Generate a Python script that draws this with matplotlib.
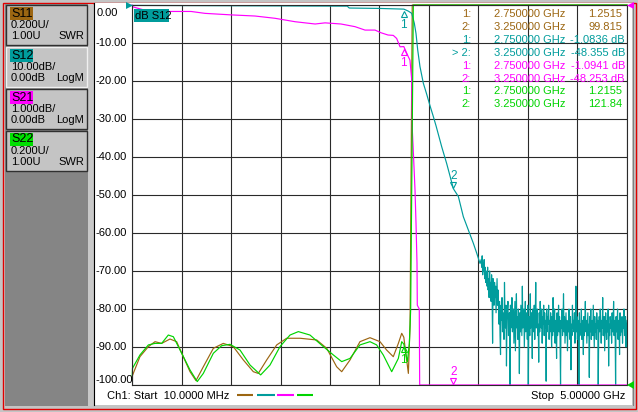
import numpy as np
import matplotlib
matplotlib.use('Agg')
import matplotlib.pyplot as plt
from matplotlib.patches import Rectangle, Polygon
from matplotlib.transforms import blended_transform_factory, offset_copy

plt.rcParams['font.family'] = ['Liberation Sans', 'DejaVu Sans']
plt.rcParams['font.size'] = 8

# sweep: 10 MHz .. 5 GHz, frequencies in GHz
f_start, f_stop = 0.01, 5.0

# S11 (SWR)
s11_f = [0.01, 0.09, 0.175, 0.242, 0.309, 0.393, 0.46, 0.527, 0.595, 0.655, 0.729, 0.83,
         0.93, 1.031, 1.132, 1.233, 1.283, 1.368, 1.469, 1.569, 1.704, 1.872, 1.973, 2.073,
         2.124, 2.208, 2.308, 2.409, 2.51, 2.577, 2.644, 2.695, 2.729, 2.75, 2.796, 2.813,
         2.822, 2.835, 3.25, 5.0]
s11_swr = [1.044, 1.149, 1.202, 1.228, 1.219, 1.242, 1.228, 1.149, 1.070, 1.023, 1.096, 1.193,
           1.219, 1.202, 1.132, 1.070, 1.061, 1.132, 1.211, 1.246, 1.246, 1.237, 1.193, 1.096,
           1.070, 1.132, 1.228, 1.249, 1.228, 1.184, 1.149, 1.219, 1.272, 1.2515, 1.061, 1.316,
           2.0, 3.2, 99.815, 150.0]

# S22 (SWR)
s22_f = [0.01, 0.015, 0.09, 0.175, 0.242, 0.309, 0.376, 0.427, 0.511, 0.595, 0.668, 0.729,
         0.83, 0.914, 0.998, 1.099, 1.2, 1.307, 1.401, 1.502, 1.603, 1.687, 1.804, 1.939,
         2.04, 2.124, 2.208, 2.308, 2.409, 2.476, 2.543, 2.628, 2.695, 2.729, 2.75, 2.786,
         2.806, 2.819, 2.836, 2.846, 2.9, 3.25, 5.0]
s22_swr = [1.026, 1.088, 1.158, 1.211, 1.219, 1.219, 1.263, 1.254, 1.167, 1.079, 1.018, 1.061,
           1.167, 1.207, 1.214, 1.184, 1.105, 1.053, 1.105, 1.202, 1.263, 1.281, 1.263, 1.202,
           1.158, 1.123, 1.14, 1.211, 1.228, 1.211, 1.158, 1.070, 1.14, 1.228, 1.2155, 1.123,
           1.219, 1.395, 2.395, 3.0, 12.0, 121.84, 200.0]

# S12 (dB), roll-off part then noise floor
s12_f = [0.01, 1.2, 2.18, 2.2, 2.5, 2.75, 2.795, 2.83, 2.856, 2.873, 2.89, 2.913, 2.947,
         2.981, 3.014, 3.047, 3.075, 3.132, 3.182, 3.25, 3.3, 3.35, 3.4, 3.451, 3.485, 3.518]
s12_db = [-0.1, -0.2, -0.3, -0.8, -0.9, -1.0836, -1.6, -2.2, -4.8, -7.5, -11.8, -16.2, -20.6,
          -23.5, -26.5, -29.3, -31.8, -37.3, -41.7, -48.355, -50.4, -55.7, -59.2, -62.7, -65.3, -68.0]
s12_noise_db = [
    -67, -69, -66, -71, -68, -70, -67, -72, -69, -73, -70, -71, -74, -69, -75, -72, -77, -70,
    -74, -73, -78, -71, -76, -89, -72, -75, -79, -73, -77, -74, -81, -76, -72, -79, -75,
    -80, -84, -78, -87, -92, -79, -83, -77, -86, -81, -84, -88, -73, -82, -85, -79, -95, -83,
    -80, -78, -87, -84, -81, -100, -79, -85, -83, -77, -86, -82, -80, -89, -84, -78, -91, -83,
    -76, -85, -82, -88, -80, -84, -97, -81, -86, -79, -83, -87, -74, -85, -82, -80, -90, -84,
    -78, -86, -83, -81, -88, -79, -100, -84, -82, -87, -76, -85, -81, -83, -93, -80, -86, -84,
    -79, -88, -82, -73, -85, -83, -80, -87, -84, -94, -81, -86, -78, -83, -85, -80, -89, -82,
    -84, -79, -87, -81, -85, -83, -99, -80, -86, -82,
    -84, -79, -88, -83, -86, -81, -85, -90, -82, -87, -77, -84, -86, -80, -89, -83, -85, -93,
    -81, -87, -84, -79, -86, -82, -88, -100, -83, -85, -80, -87, -84, -76, -86, -82, -89, -85,
    -81, -87, -83, -91, -84, -86, -80, -85, -88, -82, -96, -84, -87, -79, -85, -83, -86, -81,
    -89, -84, -74, -86, -82, -88, -85, -83, -100, -81, -87, -84, -86, -80, -88, -83, -85, -92,
    -82, -87, -84, -78, -86, -83, -89, -85, -81, -87, -84, -98, -82, -86, -80, -88, -85, -83,
    -87, -79, -85, -90, -82, -86, -84, -88, -81, -85, -83, -100, -87, -82, -86, -80, -84, -89,
    -83, -85, -77, -87, -84, -82, -91, -86, -81, -85, -88, -83, -86, -80, -95, -84, -87, -82,
    -85, -83, -89, -81, -86, -84, -78, -87, -83, -85, -100, -82, -86, -84, -80, -88, -83, -85,
    -92, -81, -87, -84, -86, -82, -89, -83, -85, -80, -87, -84, -82, -90, -85, -83]
s12_noise_f = np.linspace(3.53, f_stop, len(s12_noise_db))

# S21 (dB)
s21_f = [0.01, 0.02, 0.171, 0.403, 0.605, 0.746, 1.008, 1.25, 1.452, 1.654, 1.856, 1.956,
         2.117, 2.258, 2.359, 2.46, 2.52, 2.591, 2.644, 2.678, 2.712, 2.75, 2.795, 2.812,
         2.83, 2.836, 2.843, 2.863, 2.873, 2.883, 2.886, 2.906, 2.91, 3.25, 5.0]
s21_db = [0.0, -0.05, -0.16, -0.17, -0.17, -0.22, -0.26, -0.29, -0.35, -0.44, -0.5, -0.47,
          -0.5, -0.57, -0.66, -0.66, -0.73, -0.79, -0.8, -0.88, -1.1, -1.0941, -1.36, -1.45,
          -1.97, -3.3, -3.68, -4.87, -5.74, -6.79, -7.9, -8.0, -12.0, -48.253, -60.0]

# marker readout
marker_f = [2.75, 3.25]
s11_mk = [1.2515, 99.815]
s12_mk = [-1.0836, -48.355]
s21_mk = [-1.0941, -48.253]
s22_mk = [1.2155, 121.84]

c_s11, c_s12, c_s21, c_s22 = '#9c6612', '#009c9c', '#ff00ff', '#00d400'


def swr_grid(v):  # 0.200U/div, ref 1.00U at bottom line
    return -100 + (np.asarray(v, float) - 1) / 0.2 * 10


def s21_grid(v):  # 1.000 dB/div, ref 0 dB at top line
    return np.asarray(v, float) * 10


W, H = 638, 412
fig = plt.figure(figsize=(W / 100, H / 100), dpi=100, facecolor='#c4c4c4')

bg = fig.add_axes([0, 0, 1, 1])
bg.set_xlim(0, W)
bg.set_ylim(H, 0)
bg.axis('off')


def box(x0, y0, x1, y1, **kw):
    bg.add_patch(Rectangle((x0, y0), x1 - x0, y1 - y0, **kw))


box(2.5, 2.5, 635.5, 408.5, fill=False, ec='#e00000', lw=1.0)
box(5, 4, 88, 406, fc='#858585', ec='none')
box(88, 4, 93, 406, fc='#c8c8c8', ec='none')
box(94, 3, 632, 405, fc='white', ec='none')
bg.plot([93.5, 93.5], [3, 405], color='black', lw=0.8)
bg.plot([632.5, 632.5], [3, 405], color='#808080', lw=0.8)

# channel/trace boxes on the left
panels = [('S11', c_s11, '0.200U/', '1.00U', 'SWR'),
          ('S12', c_s12, '10.00dB/', '0.00dB', 'LogM'),
          ('S21', c_s21, '1.000dB/', '0.00dB', 'LogM'),
          ('S22', '#00e000', '0.200U/', '1.00U', 'SWR')]
for i, (name, col, scale, ref, fmt) in enumerate(panels):
    y0 = 5 + 42 * i
    box(6, y0, 87, y0 + 40, fc='#c4c4c4', ec='#303030' if i != 1 else '#f0f0f0', lw=1.0)
    box(10, y0 + 2, 33, y0 + 15, fc=col, ec='none')
    bg.text(11, y0 + 8.5, name, fontsize=9, va='center', ha='left', color='black')
    bg.text(11, y0 + 20, scale, va='center', ha='left', color='black')
    bg.text(11, y0 + 31, ref, va='center', ha='left', color='black')
    bg.text(84, y0 + 31, fmt, va='center', ha='right', color='black')

# main graticule
ax = fig.add_axes([132 / W, (H - 385) / H, 495 / W, 380 / H])
ax.set_facecolor('none')
ax.set_xlim(f_start, f_stop)
ax.set_ylim(-100, 0)
ax.set_xticks(np.linspace(f_start, f_stop, 11))
ax.set_yticks(np.arange(-100, 1, 10))
ax.grid(True, color='#2a2a2a', lw=0.8)
ax.tick_params(length=0, labelbottom=False, labelleft=False)
for s in ax.spines.values():
    s.set_color('#2a2a2a')
    s.set_linewidth(0.8)

lw = 0.85
ax.plot(s11_f, np.clip(swr_grid(s11_swr), -100, 0), color=c_s11, lw=lw, clip_on=False)
s12_all_f = np.concatenate([s12_f, s12_noise_f])
s12_all = np.concatenate([s12_db, s12_noise_db])
ax.plot(s12_all_f, np.clip(s12_all, -100, 0), color=c_s12, lw=lw, clip_on=False)
ax.plot(s21_f, np.clip(s21_grid(s21_db), -100, 0), color=c_s21, lw=lw, clip_on=False)
ax.plot(s22_f, np.clip(swr_grid(s22_swr), -100, 0), color=c_s22, lw=lw, clip_on=False)


def marker(f, g, label, color, below):
    g = float(np.clip(g, -100, 0))
    dt = -5 if below else 4
    dl = -16 if below else 13
    tt = offset_copy(ax.transData, fig=fig, x=0, y=dt, units='dots')
    tl = offset_copy(ax.transData, fig=fig, x=0, y=dl, units='dots')
    ax.plot([f], [g], marker='^' if below else 'v', ms=5, mfc='none', mec=color,
            mew=0.8, transform=tt, clip_on=False)
    ax.text(f, g, label, transform=tl, color=color, ha='center', va='center', fontsize=8.5)


marker(marker_f[0], s12_mk[0], '1', c_s12, True)
marker(marker_f[1], s12_mk[1], '2', c_s12, False)
marker(marker_f[0], s21_grid(s21_mk[0]), '1', c_s21, True)
marker(marker_f[1], s21_grid(s21_mk[1]), '2', c_s21, False)
marker(marker_f[0], swr_grid(s22_mk[0]), '1', c_s22, True)

# overlay for text in pixel coordinates
ov = fig.add_axes([0, 0, 1, 1], zorder=5)
ov.set_xlim(0, W)
ov.set_ylim(H, 0)
ov.axis('off')

# y tick labels (active trace S12, 10 dB/div)
ytr = blended_transform_factory(ov.transData, ax.transData)
for v in np.arange(0, -101, -10):
    shift = -8 if v == 0 else (5 if v == -100 else 0)
    tr = offset_copy(ytr, fig=fig, x=0, y=shift, units='dots')
    ov.text(97 if v == 0 else 95, v, '%.2f' % v, transform=tr, ha='left', va='center',
            color='black')

# readout table
rows = []
for mk, col, unit in [(s11_mk, c_s11, ''), (s12_mk, c_s12, ' dB'),
                      (s21_mk, c_s21, ' dB'), (s22_mk, c_s22, '')]:
    for j in range(2):
        rows.append((col, j, mk[j], unit))
for i, (col, j, val, unit) in enumerate(rows):
    y = 14 + 12.9 * i
    lab = '%d:' % (j + 1)
    if col == c_s12 and j == 1:
        lab = '> ' + lab
    ov.text(471, y, lab, ha='right', va='center', color=col)
    ov.text(494, y, '%.6f GHz' % marker_f[j], ha='left', va='center', color=col)
    ov.text(625 if unit else 622, y, ('%.5g' % val) + unit, ha='right', va='center', color=col)

# "dB S12" tag
ov.add_patch(Rectangle((134, 9), 35, 13, fc=c_s12, ec='none'))
ov.text(135, 15.5, 'dB S12', ha='left', va='center', color='black')

# reference position arrows
ov.add_patch(Polygon([[126, 2], [133, 5.5], [126, 9]], closed=True, fc=c_s12, ec='none'))
ov.add_patch(Polygon([[634, 2], [627, 5.5], [634, 9]], closed=True, fc=c_s21, ec='none'))
ov.add_patch(Polygon([[634, 381], [627, 385], [634, 389]], closed=True, fc=c_s22, ec='none'))

# bottom status line
ov.text(107, 396, 'Ch1: Start  10.0000 MHz', ha='left', va='center', color='black')
for (x0, x1), col in zip([(237, 253), (257, 275), (277, 294), (297, 313)],
                         [c_s11, c_s12, c_s21, c_s22]):
    ov.plot([x0, x1], [395, 395], color=col, lw=1.5, solid_capstyle='butt')
ov.text(625, 396, 'Stop  5.00000 GHz', ha='right', va='center', color='black')

fig.savefig('out.png', dpi=100, facecolor=fig.get_facecolor())
